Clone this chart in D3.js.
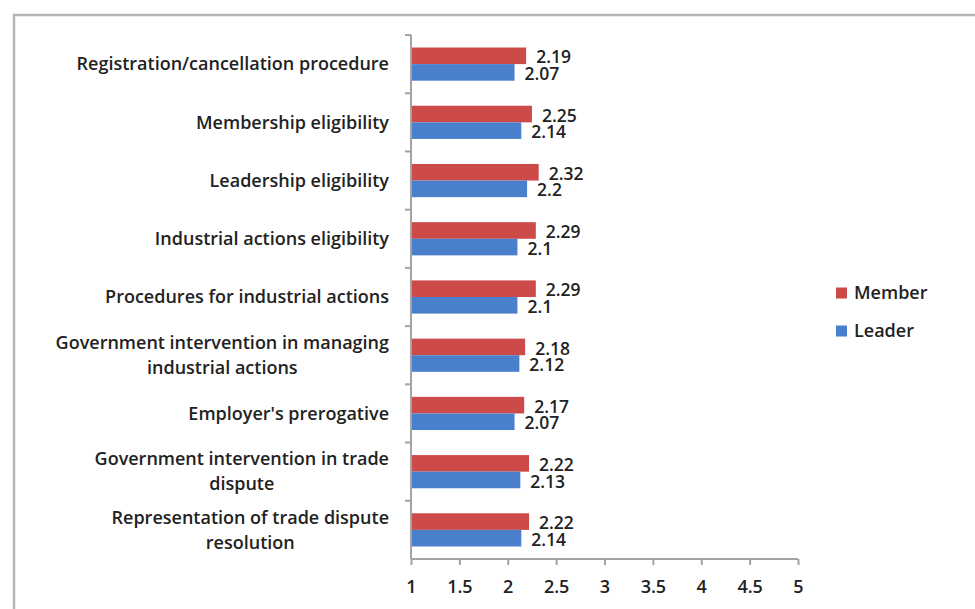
<!DOCTYPE html>
<html>
<head>
<meta charset="utf-8">
<script src="https://cdn.jsdelivr.net/npm/d3@7"></script>
<style>
  html, body { margin: 0; padding: 0; background: #fff; }
  svg { display: block; }
  text { font-family: "Open Sans", Lato, sans-serif; fill: #222; }
</style>
</head>
<body>
<svg id="chart" width="975" height="609"></svg>
<script>
// Category labels (each entry is a list of wrapped lines), top to bottom
const categories = [
  ["Registration/cancellation procedure"],
  ["Membership eligibility"],
  ["Leadership eligibility"],
  ["Industrial actions eligibility"],
  ["Procedures for industrial actions"],
  ["Government intervention in managing", "industrial actions"],
  ["Employer's prerogative"],
  ["Government intervention in trade", "dispute"],
  ["Representation of trade dispute", "resolution"]
];
const seriesNames = ["Member", "Leader"];
const memberValues = [2.19, 2.25, 2.32, 2.29, 2.29, 2.18, 2.17, 2.22, 2.22];
const leaderValues = [2.07, 2.14, 2.2, 2.1, 2.1, 2.12, 2.07, 2.13, 2.14];
const xTicks = [1, 1.5, 2, 2.5, 3, 3.5, 4, 4.5, 5];
const colors = ["#cc4a48", "#4a7fcb"];

const svg = d3.select("#chart");
const fontSize = 18;
const weight = 600;

// Outer frame
svg.append("path")
  .attr("d", "M14,609 V15 H975")
  .attr("fill", "none")
  .attr("stroke", "#b4b4b4")
  .attr("stroke-width", 2.5);

const plot = { left: 411, right: 798, top: 35, bottom: 559 };

const x = d3.scaleLinear().domain([1, 5]).range([plot.left, plot.right]);
const y = d3.scaleBand()
  .domain(d3.range(categories.length))
  .range([plot.top, plot.bottom])
  .paddingInner(0.43).paddingOuter(0.215);
const band = d3.scaleBand().domain(seriesNames).range([0, y.bandwidth()]);

const rows = categories.map((c, i) => ({ i, values: [memberValues[i], leaderValues[i]] }));

// Bars
const g = svg.append("g");
rows.forEach(r => {
  seriesNames.forEach((s, k) => {
    const v = r.values[k];
    g.append("rect")
      .attr("x", x(1))
      .attr("y", y(r.i) + band(s))
      .attr("width", x(v) - x(1))
      .attr("height", band.bandwidth())
      .attr("fill", colors[k]);
  });
});
// Value labels just past each bar end
rows.forEach(r => {
  seriesNames.forEach((s, k) => {
    const v = r.values[k];
    g.append("text")
      .attr("x", x(v) + 10)
      .attr("y", y(r.i) + band(s) + band.bandwidth() / 2 + 1.5)
      .attr("dy", "0.35em")
      .attr("font-size", 17.5)
      .attr("font-weight", weight)
      .text(v);
  });
});

// Y axis line and category ticks at band boundaries
const step = y.step();
const axisColor = "#a3a3a3";
svg.append("line")
  .attr("x1", plot.left).attr("x2", plot.left)
  .attr("y1", plot.top).attr("y2", plot.bottom)
  .attr("stroke", axisColor).attr("stroke-width", 2);
d3.range(categories.length).forEach(i => {
  const yy = y(i) - y.paddingInner() * step / 2;
  svg.append("line")
    .attr("x1", plot.left - 6).attr("x2", plot.left)
    .attr("y1", yy).attr("y2", yy)
    .attr("stroke", axisColor).attr("stroke-width", 2);
});

// Category labels: right-aligned block, lines centered within it
categories.forEach((lines, i) => {
  const cy = y(i) + y.bandwidth() / 2;
  const lineH = 25;
  const first = svg.append("text")
    .attr("font-size", fontSize)
    .attr("font-weight", weight)
    .attr("text-anchor", "end")
    .attr("x", 389)
    .attr("y", cy - (lines.length - 1) * lineH / 2)
    .attr("dy", "0.35em")
    .text(lines[0]);
  const w = first.node().getComputedTextLength();
  lines.slice(1).forEach((ln, j) => {
    svg.append("text")
      .attr("font-size", fontSize)
      .attr("font-weight", weight)
      .attr("text-anchor", "middle")
      .attr("x", 389 - w / 2)
      .attr("y", cy - (lines.length - 1) * lineH / 2 + (j + 1) * lineH)
      .attr("dy", "0.35em")
      .text(ln);
  });
});

// X axis
const xAxis = svg.append("g")
  .attr("transform", `translate(0,${plot.bottom})`)
  .call(d3.axisBottom(x).tickValues(xTicks).tickSize(6).tickPadding(15)
    .tickFormat(d3.format("~g")));
xAxis.select(".domain").attr("stroke", axisColor).attr("stroke-width", 2)
  .attr("d", `M${plot.left},0H${plot.right}`);
xAxis.selectAll(".tick line").attr("stroke", axisColor).attr("stroke-width", 2);
xAxis.selectAll(".tick text")
  .attr("font-size", 18)
  .attr("font-weight", weight)
  .attr("font-family", "'Open Sans', Lato, sans-serif")
  .attr("fill", "#222");

// Legend
const legend = svg.append("g");
seriesNames.forEach((s, k) => {
  const ly = 293 + k * 38;
  legend.append("rect")
    .attr("x", 836).attr("y", ly - 5.5)
    .attr("width", 11).attr("height", 11)
    .attr("fill", colors[k]);
  legend.append("text")
    .attr("x", 854).attr("y", ly)
    .attr("dy", "0.35em")
    .attr("font-size", fontSize)
    .attr("font-weight", weight)
    .text(s);
});
</script>
</body>
</html>
